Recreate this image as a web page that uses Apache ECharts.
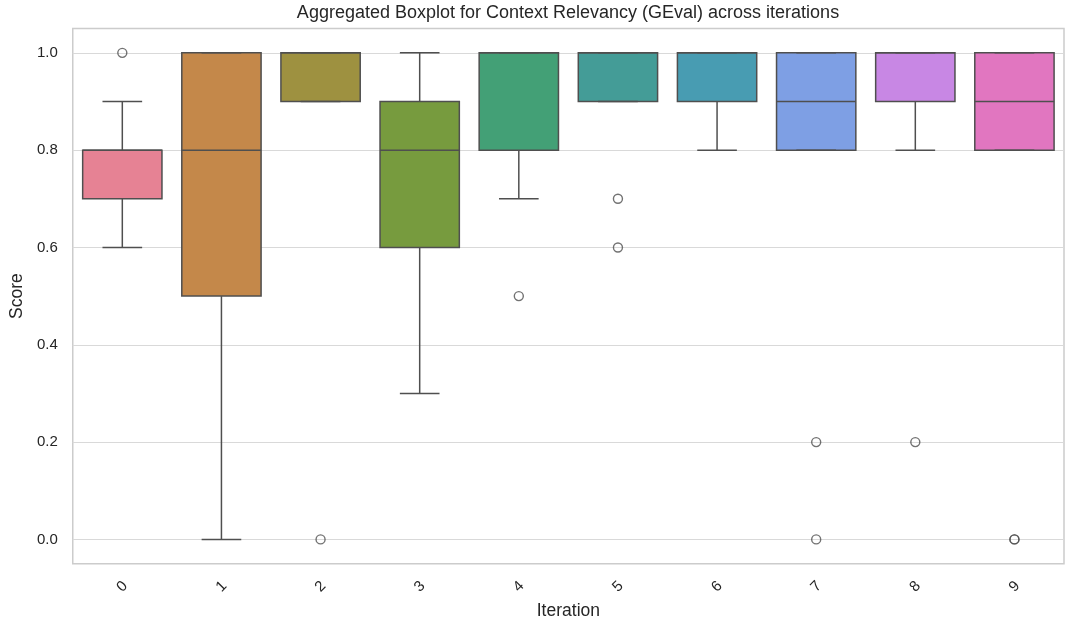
<!DOCTYPE html>
<html>
<head>
<meta charset="utf-8">
<script src="https://cdn.jsdelivr.net/npm/echarts@6/dist/echarts.min.js"></script>
<style>
html,body{margin:0;padding:0;background:#fff;}
#chart{width:1066px;height:625px;}
</style>
</head>
<body>
<div id="chart"></div>
<script>
const iterations = ['0','1','2','3','4','5','6','7','8','9'];
const whiskerLow = [0.6, 0.0, 0.9, 0.3, 0.7, 0.9, 0.8, 0.8, 0.8, 0.8];
const q1Values   = [0.7, 0.5, 0.9, 0.6, 0.8, 0.9, 0.9, 0.8, 0.9, 0.8];
const medians    = [0.8, 0.8, 1.0, 0.8, 1.0, 1.0, 1.0, 0.9, 1.0, 0.9];
const q3Values   = [0.8, 1.0, 1.0, 0.9, 1.0, 1.0, 1.0, 1.0, 1.0, 1.0];
const whiskerHigh= [0.9, 1.0, 1.0, 1.0, 1.0, 1.0, 1.0, 1.0, 1.0, 1.0];
const outlierIter  = [0, 2, 4, 5, 5, 7, 7, 8, 9, 9];
const outlierScore = [1.0, 0.0, 0.5, 0.7, 0.6, 0.2, 0.0, 0.2, 0.0, 0.0];
const yTicks = [0.0, 0.2, 0.4, 0.6, 0.8, 1.0];
const boxColors = ['#e68294','#c4884a','#9e9140','#779b3e','#43a076','#449c97','#489cb2','#7e9fe4','#c887e4','#e176c0'];

const lineColor = '#4f4f4f';
const textColor = '#262626';
const font = "'Liberation Sans', Arial, sans-serif";

const boxData = iterations.map((c, i) => [i, whiskerLow[i], q1Values[i], medians[i], q3Values[i], whiskerHigh[i]]);
const outlierData = outlierIter.map((c, i) => [c, outlierScore[i]]);

const chart = echarts.init(document.getElementById('chart'));
chart.setOption({
  animation: false,
  backgroundColor: '#ffffff',
  title: {
    text: 'Aggregated Boxplot for Context Relevancy (GEval) across iterations',
    left: 568, top: 4, textAlign: 'center', padding: 0,
    textStyle: { fontFamily: font, fontSize: 18, fontWeight: 'normal', color: textColor }
  },
  grid: {
    left: 71, right: 2, top: 28.5, bottom: 55,
    show: true, borderColor: '#cccccc', borderWidth: 1.5, backgroundColor: 'transparent'
  },
  xAxis: {
    type: 'category', data: iterations, boundaryGap: true,
    name: 'Iteration', nameLocation: 'middle', nameGap: 36,
    nameTextStyle: { fontFamily: font, fontSize: 17.5, color: textColor },
    axisLine: { show: false }, axisTick: { show: false },
    axisLabel: { rotate: 45, margin: 23, align: 'center', verticalAlign: 'middle',
      fontFamily: font, fontSize: 15, color: textColor },
    splitLine: { show: false }
  },
  yAxis: {
    type: 'value', min: -0.05, max: 1.05,
    name: 'Score', nameLocation: 'middle', nameGap: 45,
    nameTextStyle: { fontFamily: font, fontSize: 17.5, color: textColor },
    axisLine: { show: false },
    axisTick: { show: false, customValues: yTicks },
    axisLabel: { customValues: yTicks, margin: 15, fontFamily: font, fontSize: 15, color: textColor,
      formatter: v => v.toFixed(1) },
    splitLine: { show: true, lineStyle: { color: '#d9d9d9', width: 1.2 } }
  },
  series: [
    {
      type: 'custom',
      data: boxData,
      encode: { x: 0, y: [1, 2, 3, 4, 5] },
      z: 3,
      renderItem: function (params, api) {
        const x = api.value(0);
        const pLow = api.coord([x, api.value(1)]);
        const pQ1 = api.coord([x, api.value(2)]);
        const pMed = api.coord([x, api.value(3)]);
        const pQ3 = api.coord([x, api.value(4)]);
        const pHigh = api.coord([x, api.value(5)]);
        const band = api.size([1, 0])[0];
        const bw = band * 0.8;
        const cw = bw * 0.5;
        const cx = pLow[0];
        const ls = { stroke: lineColor, lineWidth: 1.5, fill: null };
        return {
          type: 'group',
          children: [
            { type: 'line', shape: { x1: cx, y1: pQ1[1], x2: cx, y2: pLow[1] }, style: ls },
            { type: 'line', shape: { x1: cx, y1: pQ3[1], x2: cx, y2: pHigh[1] }, style: ls },
            { type: 'rect', shape: { x: cx - bw / 2, y: pQ3[1], width: bw, height: pQ1[1] - pQ3[1] },
              style: { fill: boxColors[params.dataIndex], stroke: lineColor, lineWidth: 1.5 } },
            { type: 'line', shape: { x1: cx - bw / 2, y1: pMed[1], x2: cx + bw / 2, y2: pMed[1] }, style: ls },
            { type: 'line', shape: { x1: cx - cw / 2, y1: pLow[1], x2: cx + cw / 2, y2: pLow[1] }, style: ls },
            { type: 'line', shape: { x1: cx - cw / 2, y1: pHigh[1], x2: cx + cw / 2, y2: pHigh[1] }, style: ls }
          ]
        };
      }
    },
    {
      type: 'scatter',
      data: outlierData,
      symbol: 'circle',
      symbolSize: 9,
      z: 4,
      itemStyle: { color: 'rgba(255,255,255,0)', borderColor: lineColor, borderWidth: 1.4 }
    }
  ]
});
</script>
</body>
</html>
